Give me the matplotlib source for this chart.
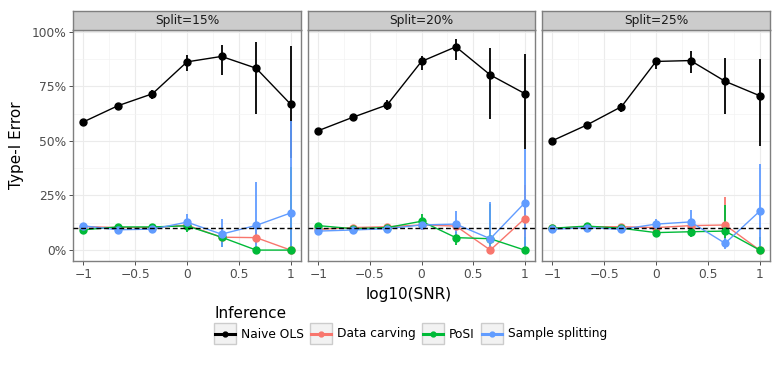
import matplotlib
matplotlib.use('Agg')
import matplotlib.pyplot as plt
from matplotlib.patches import Rectangle
from matplotlib.ticker import FuncFormatter

snr = [-1, -0.667, -0.333, 0, 0.333, 0.667, 1]
splits = ['Split=15%', 'Split=20%', 'Split=25%']
methods = ['Naive OLS', 'Data carving', 'PoSI', 'Sample splitting']
colors = ['black', '#F8766D', '#00BA38', '#619CFF']

# Split=15%
naive_15 = [0.587, 0.661, 0.716, 0.862, 0.887, 0.833, 0.668]
naive_15_lo = [0.577, 0.650, 0.693, 0.821, 0.801, 0.622, 0.42]
naive_15_hi = [0.597, 0.672, 0.734, 0.893, 0.940, 0.953, 0.935]
carve_15 = [0.108, 0.103, 0.103, 0.114, 0.059, 0.057, 0.0]
carve_15_lo = [0.100, 0.095, 0.095, 0.100, 0.030, 0.030, 0.0]
carve_15_hi = [0.116, 0.111, 0.111, 0.128, 0.090, 0.090, 0.38]
posi_15 = [0.093, 0.106, 0.106, 0.111, 0.059, 0.0, 0.0]
posi_15_lo = [0.085, 0.098, 0.098, 0.085, 0.015, 0.0, 0.0]
posi_15_hi = [0.101, 0.114, 0.114, 0.130, 0.077, 0.0, 0.38]
split_15 = [0.111, 0.093, 0.096, 0.128, 0.073, 0.113, 0.170]
split_15_lo = [0.103, 0.085, 0.088, 0.093, 0.015, 0.0, 0.0]
split_15_hi = [0.119, 0.101, 0.104, 0.165, 0.142, 0.313, 0.59]

# Split=20%
naive_20 = [0.547, 0.608, 0.665, 0.864, 0.931, 0.802, 0.717]
naive_20_lo = [0.537, 0.596, 0.640, 0.824, 0.870, 0.600, 0.462]
naive_20_hi = [0.557, 0.620, 0.689, 0.888, 0.965, 0.926, 0.896]
carve_20 = [0.095, 0.103, 0.107, 0.115, 0.110, 0.0, 0.144]
carve_20_lo = [0.087, 0.095, 0.099, 0.105, 0.090, 0.0, 0.06]
carve_20_hi = [0.103, 0.111, 0.115, 0.125, 0.130, 0.0, 0.30]
posi_20 = [0.112, 0.098, 0.103, 0.132, 0.057, 0.052, 0.0]
posi_20_lo = [0.104, 0.090, 0.095, 0.092, 0.023, 0.0, 0.0]
posi_20_hi = [0.120, 0.106, 0.111, 0.165, 0.084, 0.21, 0.06]
split_20 = [0.087, 0.092, 0.098, 0.115, 0.119, 0.052, 0.216]
split_20_lo = [0.079, 0.084, 0.090, 0.090, 0.046, 0.0, 0.0]
split_20_hi = [0.095, 0.100, 0.106, 0.140, 0.179, 0.219, 0.462]

# Split=25%
naive_25 = [0.501, 0.573, 0.657, 0.864, 0.868, 0.773, 0.707]
naive_25_lo = [0.491, 0.562, 0.632, 0.830, 0.809, 0.623, 0.478]
naive_25_hi = [0.511, 0.584, 0.674, 0.880, 0.914, 0.880, 0.876]
carve_25 = [0.100, 0.107, 0.107, 0.103, 0.112, 0.115, 0.0]
carve_25_lo = [0.092, 0.099, 0.099, 0.093, 0.090, 0.01, 0.0]
carve_25_hi = [0.108, 0.115, 0.115, 0.113, 0.130, 0.242, 0.0]
posi_25 = [0.100, 0.110, 0.100, 0.080, 0.084, 0.087, 0.0]
posi_25_lo = [0.092, 0.102, 0.092, 0.065, 0.058, 0.02, 0.0]
posi_25_hi = [0.108, 0.118, 0.108, 0.095, 0.107, 0.207, 0.06]
split_25 = [0.095, 0.103, 0.095, 0.119, 0.129, 0.031, 0.178]
split_25_lo = [0.087, 0.095, 0.087, 0.095, 0.069, 0.003, 0.0]
split_25_hi = [0.103, 0.111, 0.103, 0.143, 0.184, 0.054, 0.394]

panels = [
    [(naive_15, naive_15_lo, naive_15_hi), (carve_15, carve_15_lo, carve_15_hi),
     (posi_15, posi_15_lo, posi_15_hi), (split_15, split_15_lo, split_15_hi)],
    [(naive_20, naive_20_lo, naive_20_hi), (carve_20, carve_20_lo, carve_20_hi),
     (posi_20, posi_20_lo, posi_20_hi), (split_20, split_20_lo, split_20_hi)],
    [(naive_25, naive_25_lo, naive_25_hi), (carve_25, carve_25_lo, carve_25_hi),
     (posi_25, posi_25_lo, posi_25_hi), (split_25, split_25_lo, split_25_hi)],
]

W, H = 780, 372
fig = plt.figure(figsize=(W / 100, H / 100), dpi=100)


def box(x0, y0, x1, y1):
    # pixel box (top-left origin) -> figure fraction
    return [x0 / W, (H - y1) / H, (x1 - x0) / W, (y1 - y0) / H]


panel_x = [(73, 301), (308, 535), (542, 770)]
pct = FuncFormatter(lambda v, p: '{:.0f}%'.format(v * 100))

for i, (x0, x1) in enumerate(panel_x):
    ax = fig.add_axes(box(x0, 30, x1, 261))
    ax.set_xlim(-1.1, 1.1)
    ax.set_ylim(-0.05, 1.008)
    ax.set_xticks([-1, -0.5, 0, 0.5, 1])
    ax.set_xticklabels(['\u22121', '\u22120.5', '0', '0.5', '1'])
    ax.set_xticks([-0.75, -0.25, 0.25, 0.75], minor=True)
    ax.set_yticks([0, 0.25, 0.5, 0.75, 1.0])
    ax.set_yticks([0.125, 0.375, 0.625, 0.875], minor=True)
    ax.yaxis.set_major_formatter(pct)
    ax.grid(which='major', color='#EBEBEB', lw=0.8)
    ax.grid(which='minor', color='#F3F3F3', lw=0.5)
    ax.set_axisbelow(True)
    ax.tick_params(which='major', length=2.7, width=0.6, color='#333333',
                   labelsize=8.8, labelcolor='#4D4D4D', pad=2)
    ax.tick_params(which='minor', length=0)
    if i > 0:
        ax.tick_params(axis='y', labelleft=False, length=0)
    for s in ax.spines.values():
        s.set_color('#7F7F7F')
        s.set_linewidth(1.0)

    for (m, lo, hi), c in zip(panels[i], colors):
        ax.vlines(snr, lo, hi, color=c, lw=1.3, zorder=3)
        ax.plot(snr, m, color=c, lw=1.0, marker='o', ms=5, zorder=4)
    ax.axhline(0.1, color='black', lw=1.0, ls=(0, (3.5, 2)), zorder=5)

    sax = fig.add_axes(box(x0, 11, x1, 30))
    sax.set_xticks([])
    sax.set_yticks([])
    sax.set_facecolor('#CCCCCC')
    for s in sax.spines.values():
        s.set_color('#7F7F7F')
        s.set_linewidth(1.0)
    sax.text(0.5, 0.5, splits[i], ha='center', va='center', fontsize=8.8,
             color='#1A1A1A', transform=sax.transAxes)

fig.text(17 / W, 1 - 145 / H, 'Type-I Error', rotation=90, ha='center',
         va='center', fontsize=11)
fig.text(409 / W, 1 - 294 / H, 'log10(SNR)', ha='center', va='center',
         fontsize=11)

# legend
lax = fig.add_axes([0, 0, 1, 1])
lax.set_xlim(0, W)
lax.set_ylim(H, 0)
lax.axis('off')
lax.text(214, 314, 'Inference', ha='left', va='center', fontsize=11)
key_x = [214, 310, 422, 481]
for kx, name, c in zip(key_x, methods, colors):
    lax.add_patch(Rectangle((kx, 323), 22, 21, facecolor='#F2F2F2',
                            edgecolor='#CCCCCC', lw=1.0))
    lax.plot([kx + 1, kx + 21], [333.5, 333.5], color=c, lw=2.2)
    lax.plot([kx + 11], [333.5], color=c, marker='o', ms=3.5)
    lax.text(kx + 27, 334, name, ha='left', va='center', fontsize=8.8,
             color='black')

fig.savefig('out.png', dpi=100)
plt.close(fig)
